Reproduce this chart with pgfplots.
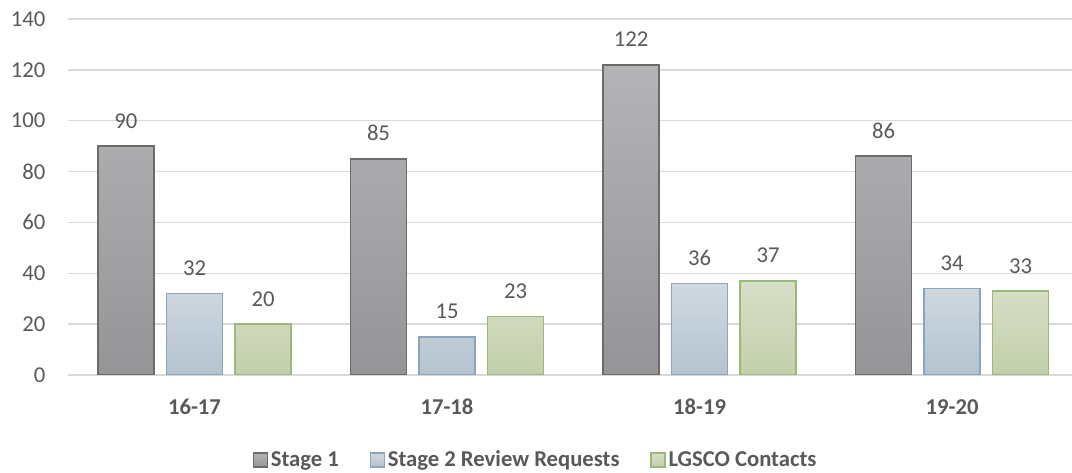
\documentclass[border=0pt]{standalone}
\usepackage{pgfplots}
\pgfplotsset{compat=1.18}
\usepackage{fontspec}
\setmainfont{Carlito}
\definecolor{txt}{HTML}{595959}
\definecolor{gridc}{HTML}{D9D9D9}
\definecolor{grayTop}{HTML}{B4B4B6}
\definecolor{grayBot}{HTML}{959597}
\definecolor{grayLine}{HTML}{6B6B6B}
\definecolor{blueTop}{HTML}{D0D9E0}
\definecolor{blueBot}{HTML}{B3C3CF}
\definecolor{blueLine}{HTML}{8CA5BC}
\definecolor{greenTop}{HTML}{D8DFC8}
\definecolor{greenBot}{HTML}{C3CFAB}
\definecolor{greenLine}{HTML}{9DB67A}

\pgfplotstableread{
x s1 s2 lg
0 90 32 20
1 85 15 23
2 122 36 37
3 86 34 33
}\datatable

\begin{document}
\begin{tikzpicture}[x=1pt,y=1pt]
\path[use as bounding box] (0,0) rectangle (804,354.75);
\begin{axis}[
  at={(51.19pt,73.5pt)}, anchor=south west,
  scale only axis, width=752.8pt, height=267pt,
  xmin=-0.5, xmax=3.475, ymin=0, ymax=140,
  ytick={0,20,...,140},
  xtick={0,1,2,3},
  xticklabels={16-17,17-18,18-19,19-20},
  axis line style={draw=none},
  major tick length=0pt,
  xmajorgrids=false, ymajorgrids=true,
  major grid style={draw=gridc, line width=1.1pt},
  font=\fontsize{17}{20}\selectfont,
  /pgf/number format/assume math mode=true,
  tick label style={text=txt},
  yticklabel style={anchor=east, xshift=-17pt, inner sep=0pt},
  xticklabel style={anchor=north, yshift=-18pt, inner sep=0pt, font=\fontsize{17}{20}\selectfont\bfseries},
  ybar=9.4pt, bar width=42pt,
  nodes near coords,
  nodes near coords style={text=txt, anchor=base, yshift=13.5pt, inner sep=0pt},
  legend columns=3,
  legend style={at={(0.4645,-0.2388)}, anchor=center, draw=none, fill=none,
    font=\fontsize{17}{20}\selectfont\bfseries, text=txt, inner sep=0pt,
    nodes={inner sep=0pt},
    /tikz/every odd column/.style={column sep=2pt},
    /tikz/every even column/.style={column sep=23pt}},
  legend image code/.code={\draw[#1, line width=1.1pt] (0pt,-5.3pt) rectangle (10.6pt,5.3pt);},
]
\addplot[draw=grayLine, line width=1.3pt, top color=grayTop, bottom color=grayBot] table[x=x,y=s1] {\datatable};
\addplot[draw=blueLine, line width=1.3pt, top color=blueTop, bottom color=blueBot] table[x=x,y=s2] {\datatable};
\addplot[draw=greenLine, line width=1.3pt, top color=greenTop, bottom color=greenBot] table[x=x,y=lg] {\datatable};
\legend{Stage 1, Stage 2 Review Requests, LGSCO Contacts}
\end{axis}
\end{tikzpicture}
\end{document}
